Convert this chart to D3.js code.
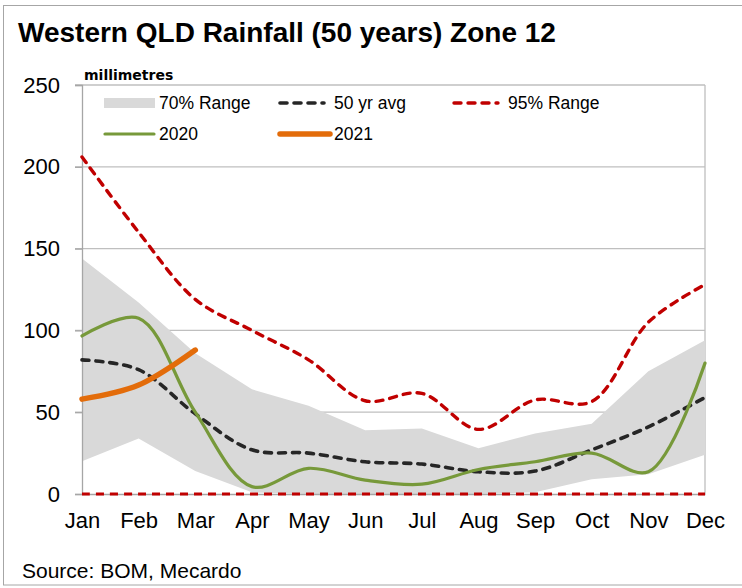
<!DOCTYPE html>
<html><head><meta charset="utf-8">
<script src="https://cdn.jsdelivr.net/npm/d3@7"></script>
<style>body{margin:0;background:#fff}svg{display:block;font-family:Arial,"Liberation Sans",sans-serif}</style>
</head><body><svg id="c" width="742" height="588"></svg>
<script>
const months = ["Jan","Feb","Mar","Apr","May","Jun","Jul","Aug","Sep","Oct","Nov","Dec"];
const range70Upper = [144,117,86,64,54,39,40,28,37,43,75,94];
const range70Lower = [20,34,14,1,0,0,0,0,1,9,12,24];
const range95Upper = [206,160,119,100,82,57,61.5,39.5,57.5,56.5,105,128];
const range95Lower = [0,0,0,0,0,0,0,0,0,0,0,0];
const avg50 = [82,76,49,27,25,19.7,18.3,13.6,14,27,41,59];
const y2020 = [96.6,107.5,50,4.5,15.7,8.5,6,15,19.7,25,13.6,80];
const y2021 = [58,66.6,88];
const yTicks = [0,50,100,150,200,250];

const svg = d3.select("#c");
const L=82,R=705,T=85,B=494;
const x = d3.scalePoint().domain(months).range([L,R]);
const y = d3.scaleLinear().domain([0,250]).range([B,T]);

// frame
svg.append("rect").attr("x",3.5).attr("y",5.5).attr("width",745).attr("height",579.5)
  .attr("fill","none").attr("stroke","#a6a6a6").attr("stroke-width",1);

svg.append("text").attr("x",18).attr("y",42).attr("font-size",28).attr("font-weight","bold")
  .attr("fill","#000").text("Western QLD Rainfall (50 years) Zone 12");

// gridlines
svg.append("g").selectAll("line").data(yTicks.filter(d=>d>0)).join("line")
  .attr("x1",L-7).attr("x2",R).attr("y1",d=>y(d)).attr("y2",d=>y(d))
  .attr("stroke","#bfbfbf").attr("stroke-width",1.3);
svg.append("line").attr("x1",R).attr("x2",R).attr("y1",T).attr("y2",B).attr("stroke","#bfbfbf").attr("stroke-width",1.3);

// band
const area = d3.area().x((d,i)=>x(months[i])).y0((d,i)=>y(range70Lower[i])).y1(d=>y(d));
svg.append("path").datum(range70Upper).attr("d",area).attr("fill","#d9d9d9");

// axes
const yAxis = d3.axisLeft(y).tickValues(yTicks).tickSize(7).tickPadding(15);
const gy = svg.append("g").attr("transform",`translate(${L},0)`).call(yAxis);
gy.select(".domain").attr("stroke","#a6a6a6").attr("stroke-width",1.3);
gy.selectAll(".tick line").attr("stroke","#a6a6a6").attr("stroke-width",1.3);
gy.selectAll("text").attr("font-size",22).attr("fill","#000").attr("font-family","Arial,'Liberation Sans',sans-serif");

const xAxis = d3.axisBottom(x).tickSize(0).tickPadding(18);
const gx = svg.append("g").attr("transform",`translate(0,${B})`).call(xAxis);
gx.select(".domain").attr("stroke","#a6a6a6").attr("stroke-width",1.3);
gx.selectAll("text").attr("font-size",22).attr("fill","#000").attr("font-family","Arial,'Liberation Sans',sans-serif");

svg.append("text").attr("x",84).attr("y",80).attr("font-size",14).attr("font-weight","bold")
  .attr("font-family","'DejaVu Sans',Verdana,sans-serif").text("millimetres");

const line = d3.line().x((d,i)=>x(months[i])).y(d=>y(d)).curve(d3.curveCatmullRom.alpha(0.5));

svg.append("path").datum(range95Lower).attr("d",line).attr("fill","none").attr("stroke","#c00000")
  .attr("stroke-width",3.2).attr("stroke-dasharray","8,6").attr("stroke-linecap","butt");
svg.append("path").datum(avg50).attr("d",line).attr("fill","none").attr("stroke","#262626")
  .attr("stroke-width",3.6).attr("stroke-dasharray","7,7").attr("stroke-linecap","round");
svg.append("path").datum(range95Upper).attr("d",line).attr("fill","none").attr("stroke","#c00000")
  .attr("stroke-width",3.4).attr("stroke-dasharray","7,7").attr("stroke-linecap","round");
svg.append("path").datum(y2020).attr("d",line).attr("fill","none").attr("stroke","#77993a")
  .attr("stroke-width",3.2).attr("stroke-linecap","round");
svg.append("path").datum(y2021).attr("d",line).attr("fill","none").attr("stroke","#e36c0a")
  .attr("stroke-width",5.5).attr("stroke-linecap","round");

// legend
const lg = svg.append("g").attr("font-size",17.5).attr("fill","#000");
lg.append("rect").attr("x",104).attr("y",98).attr("width",51).attr("height",10).attr("fill","#d9d9d9");
lg.append("text").attr("x",159).attr("y",109).text("70% Range");
lg.append("line").attr("x1",280).attr("x2",324).attr("y1",103).attr("y2",103).attr("stroke","#262626")
  .attr("stroke-width",3.6).attr("stroke-dasharray","7,7").attr("stroke-linecap","round");
lg.append("text").attr("x",334).attr("y",109).text("50 yr avg");
lg.append("line").attr("x1",454).attr("x2",498).attr("y1",103).attr("y2",103).attr("stroke","#c00000")
  .attr("stroke-width",3.4).attr("stroke-dasharray","7,7").attr("stroke-linecap","round");
lg.append("text").attr("x",508).attr("y",109).text("95% Range");
lg.append("line").attr("x1",105).attr("x2",154).attr("y1",134).attr("y2",134).attr("stroke","#77993a")
  .attr("stroke-width",3.2).attr("stroke-linecap","round");
lg.append("text").attr("x",159).attr("y",140).text("2020");
lg.append("line").attr("x1",280).attr("x2",330).attr("y1",134).attr("y2",134).attr("stroke","#e36c0a")
  .attr("stroke-width",5.5).attr("stroke-linecap","round");
lg.append("text").attr("x",334).attr("y",140).text("2021");

svg.append("text").attr("x",22).attr("y",578).attr("font-size",21).text("Source: BOM, Mecardo");
</script></body></html>
